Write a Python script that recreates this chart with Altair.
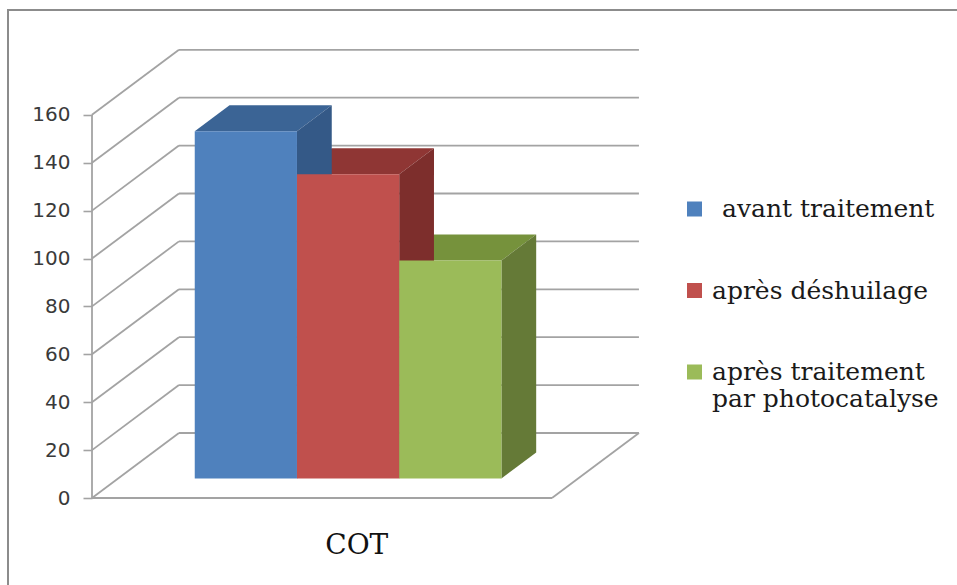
import altair as alt
import pandas as pd

# --- data -------------------------------------------------------------
categories = ["avant traitement", "après déshuilage", "après traitement par photocatalyse"]
cot_values = [145, 127, 91]
group_label = "COT"
tick_values = [0, 20, 40, 60, 80, 100, 120, 140, 160]

front_colors = ["#4F81BD", "#C0504D", "#9BBB59"]
top_colors = ["#3B6495", "#8F3634", "#76923C"]
side_colors = ["#345987", "#7D2E2C", "#657A37"]

# --- oblique 3-D geometry (x in category units, y in value units) -----
DEPTH_X = 0.189          # horizontal shift of the back wall
DEPTH_Y = 27.15          # vertical shift of the back wall
GAP = 1.5                # gap width, relative to one bar
bar_w = 1.0 / (len(categories) + GAP)
D_FRONT, D_BACK = 0.3, 0.7   # depth span occupied by the bars

X_DOMAIN = [0, 1.2]
Y_DOMAIN = [0, 200]

grid_color = "#A3A3A3"
SERIF = "DejaVu Serif"

# legend layout: one entry per series, stacked vertically
LEGEND_X, LEGEND_Y0, LEGEND_STEP = 590, 177.5, 81.5
LABEL_GAPS = [15, 5, 5]

# gridlines: slanted side-wall segment + horizontal back-wall segment
seg_rows = []
for t in tick_values:
    seg_rows.append(dict(x=0, y=t, x2=DEPTH_X, y2=t + DEPTH_Y))
    seg_rows.append(dict(x=DEPTH_X, y=t + DEPTH_Y, x2=1 + DEPTH_X, y2=t + DEPTH_Y))
seg_rows.append(dict(x=0, y=0, x2=1, y2=0))                    # floor front edge
seg_rows.append(dict(x=1, y=0, x2=1 + DEPTH_X, y2=DEPTH_Y))    # floor right edge
seg_rows.append(dict(x=0, y=0, x2=0, y2=tick_values[-1]))      # value axis line
segments = pd.DataFrame(seg_rows)

front_rows, top_rows, side_rows = [], [], []
for i, (cat, v) in enumerate(zip(categories, cot_values)):
    a = GAP / 2 * bar_w + i * bar_w
    b = a + bar_w
    fx, bx = D_FRONT * DEPTH_X, D_BACK * DEPTH_X
    fy, by = D_FRONT * DEPTH_Y, D_BACK * DEPTH_Y
    front_rows.append(dict(idx=i, cat=cat, x=a + fx, x2=b + fx, y=fy, y2=v + fy))
    for px, lo, hi in [
        (a + fx, v + fy, v + fy),
        (a + bx, v + fy, v + by),
        (b + fx, v + fy, v + by),
        (b + bx, v + by, v + by),
    ]:
        top_rows.append(dict(idx=i, cat=cat, x=px, y=lo, y2=hi, fill=top_colors[i]))
    for px, lo, hi in [
        (b + fx, fy, v + fy),
        (b + bx, by, v + by),
    ]:
        side_rows.append(dict(idx=i, cat=cat, x=px, y=lo, y2=hi, fill=side_colors[i]))

fronts = pd.DataFrame(front_rows)
tops = pd.DataFrame(top_rows)
sides = pd.DataFrame(side_rows)
label_df = pd.DataFrame([dict(label=group_label, x=0.5 + 0.4 * DEPTH_X)])

# --- encodings -----------------------------------------------------------
y_axis = alt.Axis(
    values=tick_values, domain=False, grid=False, ticks=True, tickSize=9,
    tickColor=grid_color, tickWidth=1.6, labelFont="DejaVu Sans", labelFontSize=20,
    labelColor="#3A3A3A", labelPadding=13, title=None,
)


def xq(field="x"):
    return alt.X(f"{field}:Q", scale=alt.Scale(domain=X_DOMAIN, nice=False, zero=False), axis=None)


def yq(field="y"):
    return alt.Y(f"{field}:Q", scale=alt.Scale(domain=Y_DOMAIN, nice=False), axis=y_axis, stack=None)


grid = alt.Chart(segments).mark_rule(color=grid_color, strokeWidth=1.8).encode(
    x=xq(), x2="x2:Q", y=yq(), y2="y2:Q"
)


def face_layer(df):
    return alt.Chart(df).mark_area(opacity=1, interpolate="linear").encode(
        x=xq(), y=yq(), y2="y2:Q",
        color=alt.Color("fill:N", scale=None),
        detail="cat:N",
    )


top_faces = face_layer(tops)
side_faces = face_layer(sides)


def front_layer(i):
    """Front face of one bar, carrying its own legend entry."""
    return alt.Chart(fronts).transform_filter(f"datum.idx == {i}").mark_rect(opacity=1).encode(
        x=xq(), x2="x2:Q", y=yq(), y2="y2:Q",
        color=alt.Color(
            "cat:N",
            scale=alt.Scale(domain=[categories[i]], range=[front_colors[i]]),
            legend=alt.Legend(
                orient="none", legendX=LEGEND_X, legendY=LEGEND_Y0 + i * LEGEND_STEP,
                title=None, symbolType="square", symbolSize=225, symbolStrokeWidth=0,
                labelFont=SERIF, labelFontSize=25, labelColor="#1A1A1A",
                labelLimit=500, labelOffset=LABEL_GAPS[i], padding=0,
                labelExpr="split(replace(datum.label, 'traitement ', 'traitement|'), '|')",
            ),
        ),
    )


fronts_layers = [front_layer(i) for i in range(len(categories))]

category_text = alt.Chart(label_df).mark_text(
    font=SERIF, fontSize=28, color="#111111", align="center", baseline="alphabetic"
).encode(x=xq(), y=alt.value(535), text="label:N")

frame_df = pd.DataFrame({"edge": ["frame"]})
frame_top = alt.Chart(frame_df).mark_rule(color="#8C8C8C", strokeWidth=2).encode(
    x=alt.value(-85), x2=alt.value(870), y=alt.value(-9)
)
frame_left = alt.Chart(frame_df).mark_rule(color="#8C8C8C", strokeWidth=2).encode(
    x=alt.value(-84), y=alt.value(-9), y2=alt.value(570)
)

chart = alt.layer(
    frame_top, frame_left, grid, top_faces, side_faces, *fronts_layers, category_text
).resolve_scale(color="independent").properties(
    width=552, height=479,
    padding={"left": 92, "top": 19, "right": 313, "bottom": 87},
    autosize=alt.AutoSizeParams(type="none"),
    background="white",
).configure_view(stroke=None)

chart.save("out.html", embed_options={"renderer": "svg", "actions": False})
